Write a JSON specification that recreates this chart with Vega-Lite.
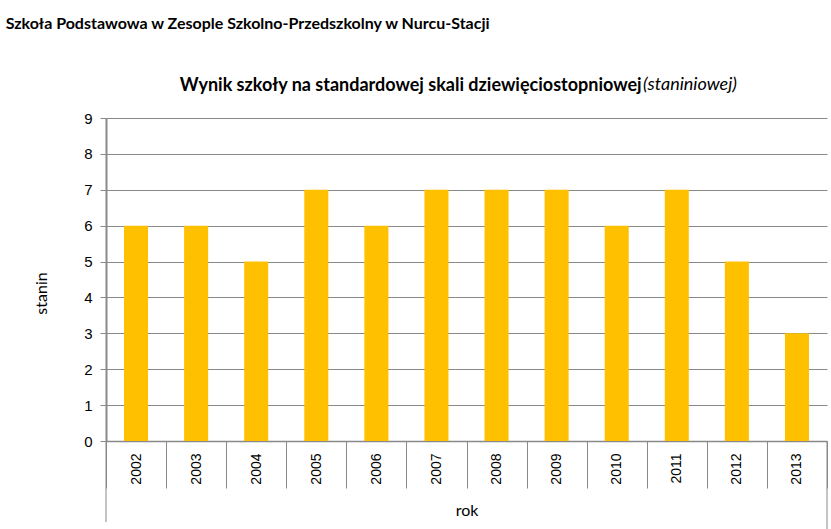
{
  "$schema": "https://vega.github.io/schema/vega-lite/v6.json",
  "padding": {"left": 5, "top": 16, "right": 0, "bottom": 0},
  "background": "white",
  "title": {
    "text": "Szkoła Podstawowa w Zesople Szkolno-Przedszkolny w Nurcu-Stacji",
    "anchor": "start",
    "frame": "bounds",
    "dx": -28,
    "font": "Lato",
    "fontSize": 16,
    "fontWeight": "bold",
    "color": "black",
    "offset": 44
  },
  "config": {
    "view": {"stroke": null},
    "font": "Lato"
  },
  "data": {
    "values": [
      {"year": "2002", "stanin": 6},
      {"year": "2003", "stanin": 6},
      {"year": "2004", "stanin": 5},
      {"year": "2005", "stanin": 7},
      {"year": "2006", "stanin": 6},
      {"year": "2007", "stanin": 7},
      {"year": "2008", "stanin": 7},
      {"year": "2009", "stanin": 7},
      {"year": "2010", "stanin": 6},
      {"year": "2011", "stanin": 7},
      {"year": "2012", "stanin": 5},
      {"year": "2013", "stanin": 3}
    ]
  },
  "vconcat": [
    {
      "width": 721,
      "height": 323,
      "title": {
        "text": "Wynik szkoły na standardowej skali dziewięciostopniowej \u2800\u2800\u2800\u2800\u2800\u2800\u2800",
        "subtitle": "(staniniowej)",
        "anchor": "end",
        "frame": "group",
        "align": "right",
        "dx": -90,
        "font": "Lato",
        "fontSize": 18,
        "fontWeight": "bold",
        "color": "black",
        "lineHeight": 20,
        "subtitleFont": "Lato",
        "subtitleFontSize": 18,
        "subtitleFontStyle": "italic",
        "subtitleFontWeight": "normal",
        "subtitleColor": "black",
        "subtitleLineHeight": 20,
        "subtitlePadding": -19,
        "offset": 15
      },
      "resolve": {"axis": {"y": "independent"}},
      "layer": [
        {
          "mark": {"type": "bar", "color": "#FFC000", "width": {"band": 0.4}},
          "encoding": {
            "x": {
              "field": "year",
              "type": "ordinal",
              "scale": {"paddingInner": 0, "paddingOuter": 0},
              "axis": {
                "title": "rok",
                "titleFont": "Lato",
                "titleFontSize": 16,
                "titleFontWeight": "normal",
                "titleColor": "black",
                "titlePadding": 14,
                "labelAngle": -90,
                "labelFont": "Liberation Sans",
                "labelFontSize": 14,
                "labelColor": "black",
                "labelPadding": -35,
                "tickBand": "extent",
                "tickSize": 47,
                "tickColor": "#898989",
                "tickWidth": 1,
                "domainColor": "#898989",
                "domainWidth": 1.5
              }
            },
            "y": {
              "field": "stanin",
              "type": "quantitative",
              "scale": {"domain": [0, 9], "nice": false},
              "axis": {
                "title": "stanin",
                "values": [0, 1, 2, 3, 4, 5, 6, 7, 8, 9],
                "tickCount": 10,
                "titleFont": "Lato",
                "titleFontSize": 16,
                "titleFontWeight": "normal",
                "titleColor": "black",
                "titlePadding": 34,
                "titleY": 175,
                "labelFont": "Liberation Sans",
                "labelFontSize": 15,
                "labelColor": "black",
                "labelPadding": 8,
                "labelOverlap": false,
                "tickSize": 6,
                "tickColor": "#898989",
                "domainColor": "#898989",
                "domainWidth": 2,
                "grid": true,
                "gridColor": "#898989",
                "gridWidth": 1
              }
            }
          }
        },
        {
          "transform": [{"filter": "datum.year == '2002'"}],
          "mark": {"type": "rule", "color": "#898989", "strokeWidth": 1},
          "encoding": {
            "x": {"field": "year", "type": "ordinal", "bandPosition": 0},
            "y": {"datum": 0, "axis": null},
            "y2": {"datum": -2.26}
          }
        },
        {
          "transform": [{"filter": "datum.year == '2013'"}],
          "mark": {"type": "rule", "color": "#898989", "strokeWidth": 1},
          "encoding": {
            "x": {"field": "year", "type": "ordinal", "bandPosition": 1},
            "y": {"datum": 0, "axis": null},
            "y2": {"datum": -2.6}
          }
        }
      ]
    }
  ]
}
